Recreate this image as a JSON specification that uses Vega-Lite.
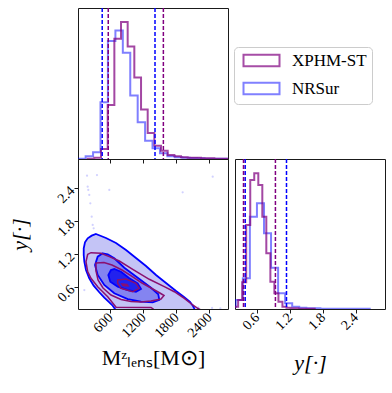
{
  "$schema": "https://vega.github.io/schema/vega-lite/v6.json",
  "padding": {"left": 8, "top": 6, "right": 5, "bottom": 5},
  "background": "white",
  "bounds": "flush",
  "spacing": {"row": 0, "column": 7},
  "columns": 2,
  "datasets": {
    "mhist": [
      {"s": "XPHM-ST", "i": 0, "x": 188, "h": 0},
      {"s": "XPHM-ST", "i": 1, "x": 188, "h": 1},
      {"s": "XPHM-ST", "i": 2, "x": 309, "h": 4},
      {"s": "XPHM-ST", "i": 3, "x": 430, "h": 30},
      {"s": "XPHM-ST", "i": 4, "x": 552, "h": 162},
      {"s": "XPHM-ST", "i": 5, "x": 673, "h": 360},
      {"s": "XPHM-ST", "i": 6, "x": 794, "h": 410},
      {"s": "XPHM-ST", "i": 7, "x": 915, "h": 337},
      {"s": "XPHM-ST", "i": 8, "x": 1036, "h": 244},
      {"s": "XPHM-ST", "i": 9, "x": 1158, "h": 148},
      {"s": "XPHM-ST", "i": 10, "x": 1279, "h": 78},
      {"s": "XPHM-ST", "i": 11, "x": 1400, "h": 40},
      {"s": "XPHM-ST", "i": 12, "x": 1521, "h": 25},
      {"s": "XPHM-ST", "i": 13, "x": 1642, "h": 12},
      {"s": "XPHM-ST", "i": 14, "x": 1764, "h": 8},
      {"s": "XPHM-ST", "i": 15, "x": 1885, "h": 5},
      {"s": "XPHM-ST", "i": 16, "x": 2006, "h": 4},
      {"s": "XPHM-ST", "i": 17, "x": 2127, "h": 4},
      {"s": "XPHM-ST", "i": 18, "x": 2248, "h": 2},
      {"s": "XPHM-ST", "i": 19, "x": 2370, "h": 2},
      {"s": "XPHM-ST", "i": 20, "x": 2491, "h": 1},
      {"s": "XPHM-ST", "i": 21, "x": 2612, "h": 1},
      {"s": "XPHM-ST", "i": 22, "x": 2733, "h": 0},
      {"s": "NRSur", "i": 0, "x": 16, "h": 0},
      {"s": "NRSur", "i": 1, "x": 16, "h": 1},
      {"s": "NRSur", "i": 2, "x": 151, "h": 8},
      {"s": "NRSur", "i": 3, "x": 286, "h": 20},
      {"s": "NRSur", "i": 4, "x": 421, "h": 170},
      {"s": "NRSur", "i": 5, "x": 556, "h": 353},
      {"s": "NRSur", "i": 6, "x": 692, "h": 385},
      {"s": "NRSur", "i": 7, "x": 827, "h": 318},
      {"s": "NRSur", "i": 8, "x": 962, "h": 190},
      {"s": "NRSur", "i": 9, "x": 1097, "h": 110},
      {"s": "NRSur", "i": 10, "x": 1232, "h": 55},
      {"s": "NRSur", "i": 11, "x": 1367, "h": 32},
      {"s": "NRSur", "i": 12, "x": 1502, "h": 17},
      {"s": "NRSur", "i": 13, "x": 1638, "h": 8},
      {"s": "NRSur", "i": 14, "x": 1773, "h": 5},
      {"s": "NRSur", "i": 15, "x": 1908, "h": 4},
      {"s": "NRSur", "i": 16, "x": 2043, "h": 3},
      {"s": "NRSur", "i": 17, "x": 2178, "h": 2},
      {"s": "NRSur", "i": 18, "x": 2313, "h": 1},
      {"s": "NRSur", "i": 19, "x": 2448, "h": 1},
      {"s": "NRSur", "i": 20, "x": 2584, "h": 1},
      {"s": "NRSur", "i": 21, "x": 2719, "h": 0}
    ],
    "yhist": [
      {"s": "XPHM-ST", "i": 0, "x": 0.184, "h": 0},
      {"s": "XPHM-ST", "i": 1, "x": 0.184, "h": 7},
      {"s": "XPHM-ST", "i": 2, "x": 0.257, "h": 27},
      {"s": "XPHM-ST", "i": 3, "x": 0.331, "h": 80},
      {"s": "XPHM-ST", "i": 4, "x": 0.404, "h": 252},
      {"s": "XPHM-ST", "i": 5, "x": 0.478, "h": 387},
      {"s": "XPHM-ST", "i": 6, "x": 0.551, "h": 407},
      {"s": "XPHM-ST", "i": 7, "x": 0.625, "h": 372},
      {"s": "XPHM-ST", "i": 8, "x": 0.698, "h": 277},
      {"s": "XPHM-ST", "i": 9, "x": 0.771, "h": 167},
      {"s": "XPHM-ST", "i": 10, "x": 0.845, "h": 82},
      {"s": "XPHM-ST", "i": 11, "x": 0.918, "h": 47},
      {"s": "XPHM-ST", "i": 12, "x": 0.992, "h": 22},
      {"s": "XPHM-ST", "i": 13, "x": 1.065, "h": 7},
      {"s": "XPHM-ST", "i": 14, "x": 1.139, "h": 4},
      {"s": "XPHM-ST", "i": 15, "x": 1.212, "h": 2},
      {"s": "XPHM-ST", "i": 16, "x": 1.286, "h": 2},
      {"s": "XPHM-ST", "i": 17, "x": 1.359, "h": 1},
      {"s": "XPHM-ST", "i": 18, "x": 1.433, "h": 1},
      {"s": "XPHM-ST", "i": 19, "x": 1.506, "h": 1},
      {"s": "XPHM-ST", "i": 20, "x": 1.58, "h": 1},
      {"s": "XPHM-ST", "i": 21, "x": 1.653, "h": 0},
      {"s": "NRSur", "i": 0, "x": 0.086, "h": 0},
      {"s": "NRSur", "i": 1, "x": 0.086, "h": 7},
      {"s": "NRSur", "i": 2, "x": 0.214, "h": 27},
      {"s": "NRSur", "i": 3, "x": 0.343, "h": 92},
      {"s": "NRSur", "i": 4, "x": 0.471, "h": 277},
      {"s": "NRSur", "i": 5, "x": 0.6, "h": 317},
      {"s": "NRSur", "i": 6, "x": 0.729, "h": 227},
      {"s": "NRSur", "i": 7, "x": 0.857, "h": 124},
      {"s": "NRSur", "i": 8, "x": 0.986, "h": 47},
      {"s": "NRSur", "i": 9, "x": 1.114, "h": 17},
      {"s": "NRSur", "i": 10, "x": 1.243, "h": 7},
      {"s": "NRSur", "i": 11, "x": 1.371, "h": 4},
      {"s": "NRSur", "i": 12, "x": 1.5, "h": 2},
      {"s": "NRSur", "i": 13, "x": 1.628, "h": 2},
      {"s": "NRSur", "i": 14, "x": 1.757, "h": 1},
      {"s": "NRSur", "i": 15, "x": 1.885, "h": 1},
      {"s": "NRSur", "i": 16, "x": 2.014, "h": 1},
      {"s": "NRSur", "i": 17, "x": 2.142, "h": 1},
      {"s": "NRSur", "i": 18, "x": 2.271, "h": 1},
      {"s": "NRSur", "i": 19, "x": 2.399, "h": 1},
      {"s": "NRSur", "i": 20, "x": 2.528, "h": 1},
      {"s": "NRSur", "i": 21, "x": 2.656, "h": 0}
    ],
    "mdash": [
      {"s": "XPHM-ST", "x": 562}, {"s": "XPHM-ST", "x": 1564},
      {"s": "NRSur", "x": 452}, {"s": "NRSur", "x": 1412}
    ],
    "ydash": [
      {"s": "XPHM-ST", "x": 0.355}, {"s": "XPHM-ST", "x": 0.937},
      {"s": "NRSur", "x": 0.386}, {"s": "NRSur", "x": 1.139}
    ],
    "contours": [
      {"c": "outerB", "i": 0, "m": 339, "y": 1.568},
      {"c": "outerB", "i": 1, "m": 521, "y": 1.495},
      {"c": "outerB", "i": 2, "m": 703, "y": 1.403},
      {"c": "outerB", "i": 3, "m": 885, "y": 1.276},
      {"c": "outerB", "i": 4, "m": 1066, "y": 1.13},
      {"c": "outerB", "i": 5, "m": 1248, "y": 0.984},
      {"c": "outerB", "i": 6, "m": 1430, "y": 0.82},
      {"c": "outerB", "i": 7, "m": 1612, "y": 0.674},
      {"c": "outerB", "i": 8, "m": 1794, "y": 0.528},
      {"c": "outerB", "i": 9, "m": 1939, "y": 0.419},
      {"c": "outerB", "i": 10, "m": 2048, "y": 0.328},
      {"c": "outerB", "i": 11, "m": 2103, "y": 0.255},
      {"c": "outerB", "i": 12, "m": 2139, "y": 0.182},
      {"c": "outerB", "i": 13, "m": 2148, "y": 0.12},
      {"c": "outerB", "i": 14, "m": 685, "y": 0.12},
      {"c": "outerB", "i": 15, "m": 685, "y": 0.2},
      {"c": "outerB", "i": 16, "m": 643, "y": 0.26},
      {"c": "outerB", "i": 17, "m": 581, "y": 0.322},
      {"c": "outerB", "i": 18, "m": 490, "y": 0.406},
      {"c": "outerB", "i": 19, "m": 399, "y": 0.505},
      {"c": "outerB", "i": 20, "m": 297, "y": 0.625},
      {"c": "outerB", "i": 21, "m": 217, "y": 0.76},
      {"c": "outerB", "i": 22, "m": 157, "y": 0.911},
      {"c": "outerB", "i": 23, "m": 127, "y": 1.062},
      {"c": "outerB", "i": 24, "m": 116, "y": 1.185},
      {"c": "outerB", "i": 25, "m": 116, "y": 1.307},
      {"c": "outerB", "i": 26, "m": 139, "y": 1.416},
      {"c": "outerB", "i": 27, "m": 188, "y": 1.489},
      {"c": "outerB", "i": 28, "m": 261, "y": 1.537},
      {"c": "midB", "i": 0, "m": 461, "y": 1.216},
      {"c": "midB", "i": 1, "m": 552, "y": 1.197},
      {"c": "midB", "i": 2, "m": 672, "y": 1.124},
      {"c": "midB", "i": 3, "m": 854, "y": 0.953},
      {"c": "midB", "i": 4, "m": 1097, "y": 0.771},
      {"c": "midB", "i": 5, "m": 1339, "y": 0.588},
      {"c": "midB", "i": 6, "m": 1472, "y": 0.468},
      {"c": "midB", "i": 7, "m": 1490, "y": 0.364},
      {"c": "midB", "i": 8, "m": 1370, "y": 0.322},
      {"c": "midB", "i": 9, "m": 1157, "y": 0.333},
      {"c": "midB", "i": 10, "m": 916, "y": 0.382},
      {"c": "midB", "i": 11, "m": 672, "y": 0.486},
      {"c": "midB", "i": 12, "m": 490, "y": 0.638},
      {"c": "midB", "i": 13, "m": 370, "y": 0.82},
      {"c": "midB", "i": 14, "m": 321, "y": 1.002},
      {"c": "midB", "i": 15, "m": 370, "y": 1.154},
      {"c": "innerB", "i": 0, "m": 612, "y": 0.911},
      {"c": "innerB", "i": 1, "m": 563, "y": 0.82},
      {"c": "innerB", "i": 2, "m": 599, "y": 0.698},
      {"c": "innerB", "i": 3, "m": 734, "y": 0.607},
      {"c": "innerB", "i": 4, "m": 916, "y": 0.546},
      {"c": "innerB", "i": 5, "m": 1066, "y": 0.515},
      {"c": "innerB", "i": 6, "m": 1157, "y": 0.565},
      {"c": "innerB", "i": 7, "m": 1097, "y": 0.669},
      {"c": "innerB", "i": 8, "m": 945, "y": 0.76},
      {"c": "innerB", "i": 9, "m": 794, "y": 0.88},
      {"c": "innerB", "i": 10, "m": 672, "y": 0.929},
      {"c": "outerP", "i": 0, "m": 188, "y": 1.197},
      {"c": "outerP", "i": 1, "m": 248, "y": 1.227},
      {"c": "outerP", "i": 2, "m": 430, "y": 1.216},
      {"c": "outerP", "i": 3, "m": 581, "y": 1.154},
      {"c": "outerP", "i": 4, "m": 763, "y": 1.075},
      {"c": "outerP", "i": 5, "m": 1007, "y": 0.924},
      {"c": "outerP", "i": 6, "m": 1308, "y": 0.742},
      {"c": "outerP", "i": 7, "m": 1581, "y": 0.607},
      {"c": "outerP", "i": 8, "m": 1763, "y": 0.515},
      {"c": "outerP", "i": 9, "m": 1945, "y": 0.395},
      {"c": "outerP", "i": 10, "m": 2097, "y": 0.273},
      {"c": "outerP", "i": 11, "m": 2188, "y": 0.213},
      {"c": "outerP", "i": 12, "m": 2248, "y": 0.182},
      {"c": "outerP", "i": 13, "m": 2248, "y": 0.12},
      {"c": "outerP", "i": 14, "m": 1450, "y": 0.12},
      {"c": "outerP", "i": 15, "m": 1380, "y": 0.2},
      {"c": "outerP", "i": 16, "m": 1339, "y": 0.228},
      {"c": "outerP", "i": 17, "m": 703, "y": 0.231},
      {"c": "outerP", "i": 18, "m": 672, "y": 0.273},
      {"c": "outerP", "i": 19, "m": 552, "y": 0.424},
      {"c": "outerP", "i": 20, "m": 370, "y": 0.607},
      {"c": "outerP", "i": 21, "m": 248, "y": 0.76},
      {"c": "outerP", "i": 22, "m": 188, "y": 0.88},
      {"c": "outerP", "i": 23, "m": 157, "y": 1.062},
      {"c": "midP", "i": 0, "m": 339, "y": 1.039},
      {"c": "midP", "i": 1, "m": 485, "y": 1.048},
      {"c": "midP", "i": 2, "m": 630, "y": 1.002},
      {"c": "midP", "i": 3, "m": 812, "y": 0.911},
      {"c": "midP", "i": 4, "m": 994, "y": 0.793},
      {"c": "midP", "i": 5, "m": 1176, "y": 0.674},
      {"c": "midP", "i": 6, "m": 1339, "y": 0.583},
      {"c": "midP", "i": 7, "m": 1485, "y": 0.501},
      {"c": "midP", "i": 8, "m": 1576, "y": 0.446},
      {"c": "midP", "i": 9, "m": 1521, "y": 0.382},
      {"c": "midP", "i": 10, "m": 1339, "y": 0.346},
      {"c": "midP", "i": 11, "m": 1157, "y": 0.328},
      {"c": "midP", "i": 12, "m": 976, "y": 0.337},
      {"c": "midP", "i": 13, "m": 794, "y": 0.373},
      {"c": "midP", "i": 14, "m": 612, "y": 0.455},
      {"c": "midP", "i": 15, "m": 467, "y": 0.583},
      {"c": "midP", "i": 16, "m": 376, "y": 0.729},
      {"c": "midP", "i": 17, "m": 339, "y": 0.893},
      {"c": "innerP", "i": 0, "m": 734, "y": 0.729},
      {"c": "innerP", "i": 1, "m": 885, "y": 0.747},
      {"c": "innerP", "i": 2, "m": 1066, "y": 0.669},
      {"c": "innerP", "i": 3, "m": 1126, "y": 0.577},
      {"c": "innerP", "i": 4, "m": 1007, "y": 0.515},
      {"c": "innerP", "i": 5, "m": 794, "y": 0.577},
      {"c": "innerP", "i": 6, "m": 734, "y": 0.669},
      {"c": "tinyP", "i": 0, "m": 812, "y": 0.656},
      {"c": "tinyP", "i": 1, "m": 903, "y": 0.647},
      {"c": "tinyP", "i": 2, "m": 921, "y": 0.62},
      {"c": "tinyP", "i": 3, "m": 830, "y": 0.629}
    ],
    "dots": [
      {"m": 176, "y": 2.63}, {"m": 357, "y": 2.643}, {"m": 188, "y": 2.43},
      {"m": 199, "y": 2.37}, {"m": 581, "y": 2.37}, {"m": 236, "y": 2.127},
      {"m": 217, "y": 2.28}, {"m": 261, "y": 1.883}, {"m": 279, "y": 1.732},
      {"m": 297, "y": 1.671}, {"m": 1915, "y": 2.328}, {"m": 2461, "y": 2.612},
      {"m": 127, "y": 0.546}, {"m": 2200, "y": 0.23}, {"m": 2450, "y": 0.22},
      {"m": 2600, "y": 0.21}
    ],
    "legend": [{"series": "XPHM-ST"}, {"series": "NRSur"}]
  },
  "concat": [
    {
      "width": 150,
      "height": 151,
      "layer": [
        {
          "data": {"name": "mhist"},
          "transform": [{"filter": "datum.s === 'NRSur'"}],
          "mark": {"type": "line", "interpolate": "step-after", "stroke": "#0000ff", "strokeOpacity": 0.5, "strokeWidth": 2, "clip": true},
          "encoding": {
            "x": {"field": "x", "type": "quantitative", "scale": {"domain": [12, 2739], "nice": false, "zero": false}, "axis": {"values": [600, 1200, 1800, 2400], "labels": false, "title": null}},
            "y": {"field": "h", "type": "quantitative", "scale": {"domain": [0, 452], "nice": false}, "axis": null},
            "order": {"field": "i", "type": "quantitative"}
          }
        },
        {
          "data": {"name": "mhist"},
          "transform": [{"filter": "datum.s === 'XPHM-ST'"}],
          "mark": {"type": "line", "interpolate": "step-after", "stroke": "#800080", "strokeOpacity": 0.72, "strokeWidth": 2, "clip": true},
          "encoding": {
            "x": {"field": "x", "type": "quantitative", "scale": {"domain": [12, 2739], "nice": false, "zero": false}},
            "y": {"field": "h", "type": "quantitative", "scale": {"domain": [0, 452], "nice": false}},
            "order": {"field": "i", "type": "quantitative"}
          }
        },
        {
          "data": {"name": "mdash"},
          "transform": [{"filter": "datum.s === 'NRSur'"}],
          "mark": {"type": "rule", "stroke": "#0000ff", "strokeWidth": 1.5, "strokeDash": [4, 2]},
          "encoding": {"x": {"field": "x", "type": "quantitative", "scale": {"domain": [12, 2739], "nice": false, "zero": false}}}
        },
        {
          "data": {"name": "mdash"},
          "transform": [{"filter": "datum.s === 'XPHM-ST'"}],
          "mark": {"type": "rule", "stroke": "#800080", "strokeWidth": 1.5, "strokeDash": [4, 2]},
          "encoding": {"x": {"field": "x", "type": "quantitative", "scale": {"domain": [12, 2739], "nice": false, "zero": false}}}
        }
      ]
    },
    {
      "width": 150,
      "height": 151,
      "view": {"stroke": null},
      "data": {"name": "legend"},
      "mark": {"type": "point", "opacity": 0},
      "encoding": {
        "color": {
          "field": "series",
          "type": "nominal",
          "scale": {"domain": ["XPHM-ST", "NRSur"], "range": ["#a64da6", "#8080ff"]},
          "legend": {
            "title": null,
            "orient": "none",
            "legendX": -1,
            "legendY": 39,
            "symbolType": "M-3,-0.97H3V0.97H-3Z",
            "symbolSize": 144,
            "symbolOffset": 14,
            "symbolStrokeWidth": 2,
            "symbolFillColor": "#ffffff",
            "symbolOpacity": 1,
            "labelFont": "Liberation Serif",
            "labelFontSize": 17,
            "labelColor": "#000000",
            "labelOffset": 22,
            "rowPadding": 7,
            "padding": 5,
            "strokeColor": "#cccccc",
            "fillColor": "#ffffff",
            "cornerRadius": 4
          }
        }
      }
    },
    {
      "width": 150,
      "height": 150,
      "layer": [
        {
          "data": {"name": "contours"},
          "transform": [{"filter": "datum.c === 'outerB'"}],
          "mark": {"type": "line", "interpolate": "linear-closed", "fill": "#c4c4f6", "stroke": "#0000ff", "strokeWidth": 1.8, "clip": true},
          "encoding": {
            "x": {"field": "m", "type": "quantitative", "scale": {"domain": [12, 2739], "nice": false, "zero": false}, "axis": {"values": [600, 1200, 1800, 2400], "format": "d", "title": "Mᶻₗₑₙₛ[M⊙]", "titlePadding": 8, "labelAlign": "right", "labelBaseline": "middle"}},
            "y": {"field": "y", "type": "quantitative", "scale": {"domain": [0.2, 2.935], "nice": false, "zero": false}, "axis": {"values": [0.6, 1.2, 1.8, 2.4], "format": ".1f", "title": "y[·]", "titleFontStyle": "italic", "titlePadding": 23, "labelAlign": "right", "labelBaseline": "middle"}},
            "order": {"field": "i", "type": "quantitative"}
          }
        },
        {
          "data": {"name": "contours"},
          "transform": [{"filter": "datum.c === 'midB'"}],
          "mark": {"type": "line", "interpolate": "linear-closed", "fill": "#8484f0", "stroke": "#0000ff", "strokeWidth": 1.8, "clip": true},
          "encoding": {
            "x": {"field": "m", "type": "quantitative", "scale": {"domain": [12, 2739], "nice": false, "zero": false}},
            "y": {"field": "y", "type": "quantitative", "scale": {"domain": [0.2, 2.935], "nice": false, "zero": false}},
            "order": {"field": "i", "type": "quantitative"}
          }
        },
        {
          "data": {"name": "contours"},
          "transform": [{"filter": "datum.c === 'innerB'"}],
          "mark": {"type": "line", "interpolate": "linear-closed", "fill": "#2222ee", "stroke": "#0000ff", "strokeWidth": 1.8, "clip": true},
          "encoding": {
            "x": {"field": "m", "type": "quantitative", "scale": {"domain": [12, 2739], "nice": false, "zero": false}},
            "y": {"field": "y", "type": "quantitative", "scale": {"domain": [0.2, 2.935], "nice": false, "zero": false}},
            "order": {"field": "i", "type": "quantitative"}
          }
        },
        {
          "data": {"name": "contours"},
          "transform": [{"filter": "datum.c === 'outerP' || datum.c === 'midP' || datum.c === 'innerP' || datum.c === 'tinyP'"}],
          "mark": {"type": "line", "interpolate": "linear-closed", "stroke": "#8a1070", "strokeWidth": 1.5, "clip": true},
          "encoding": {
            "x": {"field": "m", "type": "quantitative", "scale": {"domain": [12, 2739], "nice": false, "zero": false}},
            "y": {"field": "y", "type": "quantitative", "scale": {"domain": [0.2, 2.935], "nice": false, "zero": false}},
            "detail": {"field": "c", "type": "nominal"},
            "order": {"field": "i", "type": "quantitative"}
          }
        },
        {
          "data": {"name": "dots"},
          "mark": {"type": "circle", "size": 5, "color": "#0000ff", "opacity": 0.18, "clip": true},
          "encoding": {
            "x": {"field": "m", "type": "quantitative", "scale": {"domain": [12, 2739], "nice": false, "zero": false}},
            "y": {"field": "y", "type": "quantitative", "scale": {"domain": [0.2, 2.935], "nice": false, "zero": false}}
          }
        }
      ]
    },
    {
      "width": 150,
      "height": 150,
      "layer": [
        {
          "data": {"name": "yhist"},
          "transform": [{"filter": "datum.s === 'NRSur'"}],
          "mark": {"type": "line", "interpolate": "step-after", "stroke": "#0000ff", "strokeOpacity": 0.5, "strokeWidth": 2, "clip": true},
          "encoding": {
            "x": {"field": "x", "type": "quantitative", "scale": {"domain": [0.2, 2.935], "nice": false, "zero": false}, "axis": {"values": [0.6, 1.2, 1.8, 2.4], "format": ".1f", "title": "y[·]", "titleFontStyle": "italic", "titlePadding": 20, "labelAlign": "right", "labelBaseline": "middle"}},
            "y": {"field": "h", "type": "quantitative", "scale": {"domain": [0, 450], "nice": false}, "axis": null},
            "order": {"field": "i", "type": "quantitative"}
          }
        },
        {
          "data": {"name": "yhist"},
          "transform": [{"filter": "datum.s === 'XPHM-ST'"}],
          "mark": {"type": "line", "interpolate": "step-after", "stroke": "#800080", "strokeOpacity": 0.72, "strokeWidth": 2, "clip": true},
          "encoding": {
            "x": {"field": "x", "type": "quantitative", "scale": {"domain": [0.2, 2.935], "nice": false, "zero": false}},
            "y": {"field": "h", "type": "quantitative", "scale": {"domain": [0, 450], "nice": false}},
            "order": {"field": "i", "type": "quantitative"}
          }
        },
        {
          "data": {"name": "ydash"},
          "transform": [{"filter": "datum.s === 'NRSur'"}],
          "mark": {"type": "rule", "stroke": "#0000ff", "strokeWidth": 1.5, "strokeDash": [4, 2]},
          "encoding": {"x": {"field": "x", "type": "quantitative", "scale": {"domain": [0.2, 2.935], "nice": false, "zero": false}}}
        },
        {
          "data": {"name": "ydash"},
          "transform": [{"filter": "datum.s === 'XPHM-ST'"}],
          "mark": {"type": "rule", "stroke": "#800080", "strokeWidth": 1.5, "strokeDash": [4, 2]},
          "encoding": {"x": {"field": "x", "type": "quantitative", "scale": {"domain": [0.2, 2.935], "nice": false, "zero": false}}}
        }
      ]
    }
  ],
  "resolve": {"scale": {"color": "independent"}, "legend": {"color": "independent"}},
  "config": {
    "view": {"stroke": "#1a1a1a", "strokeWidth": 1},
    "axis": {
      "labelFont": "Liberation Serif",
      "labelFontSize": 14,
      "labelColor": "#000000",
      "labelAngle": -45,
      "titleFont": "Liberation Serif",
      "titleFontSize": 22,
      "titleFontWeight": "normal",
      "titleColor": "#000000",
      "tickColor": "#1a1a1a",
      "tickSize": 4,
      "domain": false,
      "grid": false
    }
  }
}
